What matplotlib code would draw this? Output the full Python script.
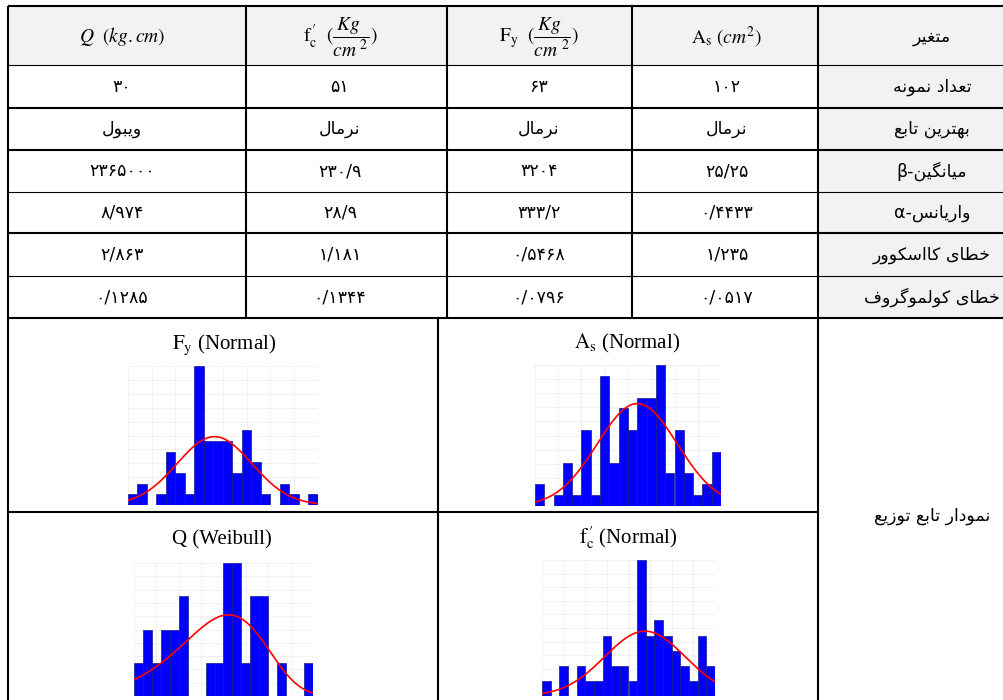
import numpy as np
import matplotlib
matplotlib.use('Agg')
import matplotlib.pyplot as plt
from matplotlib import font_manager
from matplotlib.ft2font import FT2Font
from matplotlib.patches import Rectangle

plt.rcParams['mathtext.fontset'] = 'stix'
FA_FONT = ['DejaVu Sans']
LAT_FONT = ['Liberation Serif', 'DejaVu Serif']

# ---- table data ----
col_heads = [r'$Q\ \ (kg.cm)$',
             r"$\mathrm{f}_{\mathrm{c}}^{\,\prime}\ \ (\dfrac{Kg\ }{cm^{\ 2}})$",
             r'$\mathrm{F_y}\ \ (\dfrac{Kg\ }{cm^{\ 2}})$',
             r'$\mathrm{A_s}\ (cm^2)$']
corner_head = 'متغیر'
row_labels = ['تعداد نمونه', 'بهترین تابع', 'میانگین-β', 'واریانس-α',
              'خطای کااسکوور', 'خطای کولموگروف']
n_samples = ['30', '51', '63', '102']
best_fit = ['ویبول', 'نرمال', 'نرمال', 'نرمال']
mean_beta = ['2365000', '230/9', '3204', '25/25']
var_alpha = ['8/974', '28/9', '333/2', '0/4433']
chi_err = ['2/863', '1/181', '0/5468', '1/235']
ks_err = ['0/1285', '0/1344', '0/0796', '0/0517']
plot_label = 'نمودار تابع توزیع'

# ---- histogram data (counts per bin, 20 bins each) ----
fy_counts = [1, 2, 0, 1, 5, 3, 1, 13, 6, 6, 6, 3, 7, 4, 1, 0, 2, 1, 0, 1]
as_counts = [2, 0, 1, 4, 1, 7, 1, 12, 4, 9, 7, 10, 10, 13, 3, 7, 3, 1, 2, 5]
q_counts = [1, 2, 1, 2, 2, 3, 0, 0, 1, 1, 4, 4, 1, 3, 3, 0, 1, 0, 0, 1]
fc_counts = [1, 0, 2, 0, 2, 1, 1, 4, 2, 2, 1, 9, 4, 5, 4, 3, 2, 1, 4, 2]
# fitted curves in bin units
fy_fit = (9.1, 3.93)
as_fit = (11.0, 4.31)
fc_fit = (11.9, 4.65)
q_fit = (8.974, 40.8, 29.7)   # weibull shape, scale, shift

# ---- persian shaping (matplotlib has no arabic shaping) ----
FORMS = {
    'ا': (0xFE8D, 0xFE8E, None, None), 'آ': (0xFE81, 0xFE82, None, None),
    'ب': (0xFE8F, 0xFE90, 0xFE91, 0xFE92), 'پ': (0xFB56, 0xFB57, 0xFB58, 0xFB59),
    'ت': (0xFE95, 0xFE96, 0xFE97, 0xFE98), 'ث': (0xFE99, 0xFE9A, 0xFE9B, 0xFE9C),
    'ج': (0xFE9D, 0xFE9E, 0xFE9F, 0xFEA0), 'چ': (0xFB7A, 0xFB7B, 0xFB7C, 0xFB7D),
    'ح': (0xFEA1, 0xFEA2, 0xFEA3, 0xFEA4), 'خ': (0xFEA5, 0xFEA6, 0xFEA7, 0xFEA8),
    'د': (0xFEA9, 0xFEAA, None, None), 'ذ': (0xFEAB, 0xFEAC, None, None),
    'ر': (0xFEAD, 0xFEAE, None, None), 'ز': (0xFEAF, 0xFEB0, None, None),
    'ژ': (0xFB8A, 0xFB8B, None, None),
    'س': (0xFEB1, 0xFEB2, 0xFEB3, 0xFEB4), 'ش': (0xFEB5, 0xFEB6, 0xFEB7, 0xFEB8),
    'ص': (0xFEB9, 0xFEBA, 0xFEBB, 0xFEBC), 'ض': (0xFEBD, 0xFEBE, 0xFEBF, 0xFEC0),
    'ط': (0xFEC1, 0xFEC2, 0xFEC3, 0xFEC4), 'ظ': (0xFEC5, 0xFEC6, 0xFEC7, 0xFEC8),
    'ع': (0xFEC9, 0xFECA, 0xFECB, 0xFECC), 'غ': (0xFECD, 0xFECE, 0xFECF, 0xFED0),
    'ف': (0xFED1, 0xFED2, 0xFED3, 0xFED4), 'ق': (0xFED5, 0xFED6, 0xFED7, 0xFED8),
    'ک': (0xFB8E, 0xFB8F, 0xFB90, 0xFB91), 'گ': (0xFB92, 0xFB93, 0xFB94, 0xFB95),
    'ل': (0xFEDD, 0xFEDE, 0xFEDF, 0xFEE0), 'م': (0xFEE1, 0xFEE2, 0xFEE3, 0xFEE4),
    'ن': (0xFEE5, 0xFEE6, 0xFEE7, 0xFEE8), 'ه': (0xFEE9, 0xFEEA, 0xFEEB, 0xFEEC),
    'و': (0xFEED, 0xFEEE, None, None), 'ی': (0xFBFC, 0xFBFD, 0xFBFE, 0xFBFF),
}
CMAP = FT2Font(font_manager.findfont(FA_FONT[0])).get_charmap()


def fa(text):
    text = text.replace('ي', 'ی').replace('ك', 'ک')
    out = []
    for i, ch in enumerate(text):
        f = FORMS.get(ch)
        if f is None:
            out.append(ch)
            continue
        prev = text[i - 1] if i > 0 else ''
        nxt = text[i + 1] if i < len(text) - 1 else ''
        jp = prev in FORMS and FORMS[prev][2] is not None
        jn = f[2] is not None and nxt in FORMS
        if jp and jn:
            cp = f[3]
        elif jp:
            cp = f[1]
        elif jn:
            cp = f[2]
        else:
            cp = f[0]
        out.append(chr(cp) if cp in CMAP else ch)
    return ''.join(reversed(out))


def fa_num(s):
    return ''.join(chr(0x06F0 + int(c)) if c.isdigit() else c for c in s)


W, H = 1004, 700
fig = plt.figure(figsize=(W / 100, H / 100), dpi=100)
bg = fig.add_axes([0, 0, 1, 1])
bg.set_xlim(0, W)
bg.set_ylim(H, 0)
bg.axis('off')

THICK, THIN = 1.5, 0.8
col_x = [8, 246, 447, 632, 818]
row_y = [6, 65, 108, 150, 192, 233, 276, 318]
row_lw = [THICK, THIN, THICK, THICK, THIN, THICK, THIN, THICK]

# shading
bg.add_patch(Rectangle((8, 6), W - 8, 59, color='#f2f2f2', lw=0))
bg.add_patch(Rectangle((818, 65), W - 818, 253, color='#f2f2f2', lw=0))

for y, lw in zip(row_y, row_lw):
    bg.plot([8, W], [y, y], color='k', lw=lw, solid_capstyle='butt')
bg.plot([8, 818], [512, 512], color='k', lw=THICK, solid_capstyle='butt')
bg.plot([8, 8], [6, H], color='k', lw=THICK, solid_capstyle='butt')
for x in col_x[1:4]:
    bg.plot([x, x], [6, 318], color='k', lw=THICK, solid_capstyle='butt')
bg.plot([818, 818], [6, H], color='k', lw=THICK, solid_capstyle='butt')
bg.plot([438, 438], [318, H], color='k', lw=THICK, solid_capstyle='butt')

col_cx = [122, 340, 539, 727]
lab_cx = 932

for cx, t in zip(col_cx, col_heads):
    bg.text(cx, 37, t, ha='center', va='center', fontsize=14)
bg.text(lab_cx, 37, fa(corner_head), ha='center', va='center',
        fontsize=12.5, family=FA_FONT)

rows = [n_samples, best_fit, mean_beta, var_alpha, chi_err, ks_err]
for r, (lab, vals) in enumerate(zip(row_labels, rows)):
    cy = (row_y[r + 1] + row_y[r + 2]) / 2
    bg.text(lab_cx, cy, fa(lab), ha='center', va='center', fontsize=12.5,
            family=FA_FONT)
    for cx, v in zip(col_cx, vals):
        txt = fa(v) if v in ('ویبول', 'نرمال') else fa_num(v)
        bg.text(cx, cy, txt, ha='center', va='center', fontsize=12.5,
                family=FA_FONT)
bg.text(lab_cx, 516, fa(plot_label), ha='center', va='center', fontsize=12.5,
        family=FA_FONT)


def hist_axes(left, right, top, bottom, counts, ymax, curve):
    ax = fig.add_axes([left / W, 1 - bottom / H, (right - left) / W,
                       (bottom - top) / H])
    x = np.arange(len(counts))
    ax.bar(x, counts, width=1, align='edge', color='#0000ff',
           edgecolor='#1a1a8c', linewidth=0.5, zorder=2)
    xs = np.linspace(0, len(counts), 300)
    ax.plot(xs, curve(xs), color='red', lw=1.2, zorder=3)
    ax.set_xlim(0, len(counts))
    ax.set_ylim(0, ymax)
    ax.set_xticks(np.linspace(0, len(counts), 9))
    ax.set_yticks(np.linspace(0, ymax, 11))
    ax.grid(color='#efefef', lw=0.6)
    ax.set_axisbelow(True)
    ax.tick_params(length=0, labelbottom=False, labelleft=False)
    for s in ax.spines.values():
        s.set_visible(False)
    return ax


def normal_curve(counts, mu, sd):
    n = sum(counts)
    return lambda x: n / (sd * np.sqrt(2 * np.pi)) * np.exp(-0.5 * ((x - mu) / sd) ** 2)


def weibull_curve(counts, k, lam, shift):
    n = sum(counts)

    def f(x):
        t = (x + shift) / lam
        return n * (k / lam) * t ** (k - 1) * np.exp(-t ** k)
    return f


hist_axes(128, 318, 366, 505, fy_counts, 13, normal_curve(fy_counts, *fy_fit))
hist_axes(535, 721, 365, 506, as_counts, 13, normal_curve(as_counts, *as_fit))
hist_axes(134, 313, 563, 696, q_counts, 4, weibull_curve(q_counts, *q_fit))
hist_axes(542, 715, 560, 696, fc_counts, 9, normal_curve(fc_counts, *fc_fit))

titles = [(224, 345, r'$\mathrm{F_y}$ (Normal)'),
          (627, 343, r'$\mathrm{A_s}$ (Normal)'),
          (222, 540, 'Q (Weibull)'),
          (628, 538, r"$\mathrm{f}_{\mathrm{c}}^{\,\prime}$ (Normal)")]
for x, y, t in titles:
    bg.text(x, y, t, ha='center', va='center', fontsize=15, family=LAT_FONT)

fig.savefig('out.png', dpi=100)
